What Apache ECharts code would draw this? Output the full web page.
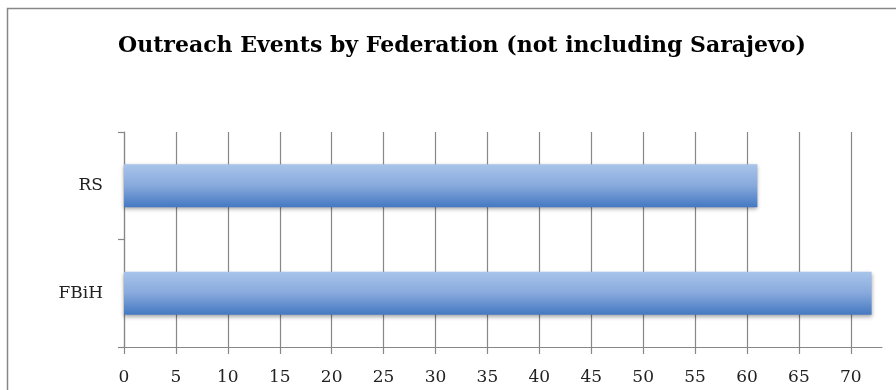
<!DOCTYPE html>
<html>
<head>
<meta charset="utf-8">
<script src="https://cdn.jsdelivr.net/npm/echarts@6/dist/echarts.min.js"></script>
<style>
html,body{margin:0;padding:0;background:#fff;}
#chart{width:896px;height:390px;}
</style>
</head>
<body>
<div id="chart"></div>
<script>
const titleText = 'Outreach Events by Federation (not including Sarajevo)';
const categories = ['FBiH', 'RS'];
const events = [72, 61];
const xTicks = [0, 5, 10, 15, 20, 25, 30, 35, 40, 45, 50, 55, 60, 65, 70];

const chart = echarts.init(document.getElementById('chart'));
const gray = '#878787';
chart.setOption({
  animation: false,
  backgroundColor: '#fff',
  title: {
    text: titleText,
    left: 113,
    top: 30,
    textStyle: {fontFamily: 'DejaVu Serif', fontWeight: 'bold', fontSize: 22, color: '#000'}
  },
  graphic: [{
    type: 'rect', z: -10, silent: true,
    shape: {x: 7.5, y: 8.5, width: 1000, height: 1000},
    style: {fill: 'none', stroke: gray, lineWidth: 1.5}
  }],
  grid: {left: 124, right: 14, top: 132, bottom: 43, containLabel: false},
  xAxis: {
    type: 'value', min: 0, max: 73, interval: 5,
    axisLine: {show: true, lineStyle: {color: gray, width: 1.2}},
    axisTick: {show: true, length: 7, customValues: xTicks, lineStyle: {color: gray, width: 1.2}},
    axisLabel: {customValues: xTicks, margin: 22, fontFamily: 'DejaVu Serif', fontSize: 17, color: '#222'},
    splitLine: {show: true, lineStyle: {color: gray, width: 1.2}}
  },
  yAxis: {
    type: 'category', data: categories,
    axisLine: {show: true, lineStyle: {color: gray, width: 1.2}},
    axisTick: {show: true, length: 6, lineStyle: {color: gray, width: 1.2}},
    axisLabel: {margin: 21, fontFamily: 'DejaVu Serif', fontSize: 17, color: '#222'}
  },
  series: [{
    type: 'bar',
    data: events,
    barWidth: '40%',
    itemStyle: {
      color: new echarts.graphic.LinearGradient(0, 0, 0, 1, [
        {offset: 0, color: '#A8C4EA'},
        {offset: 0.5, color: '#87A9DC'},
        {offset: 1, color: '#4478C2'}
      ]),
      shadowColor: 'rgba(0,0,0,0.35)',
      shadowBlur: 4,
      shadowOffsetY: 2
    }
  }]
});
</script>
</body>
</html>
